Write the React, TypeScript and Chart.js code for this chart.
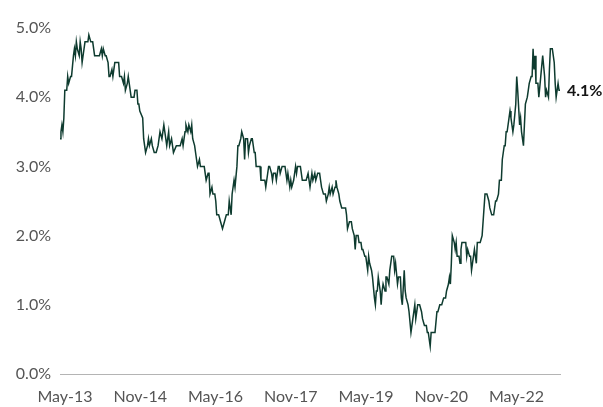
import React, { useEffect, useRef } from "react";
import { Chart, registerables } from "chart.js";

Chart.register(...registerables);

// Week offsets from the first observation (early Apr 2013)
const weeks1 = [0,1,2,3,4,5,7,8,9,11, 12,14,15,16,17,18,20,21,22,23, 25,26,28,29,30,32,34,36,41,43, 44,45,47,48,50,51,52,54,55,57, 61,62,64,66,67,68,70,71,73,74, 77,78,80,81,82,83];
const rates1 = [3.4,3.5,3.6,3.5,3.7,4.1,4.1,4.3,4.2,4.3, 4.3,4.6,4.7,4.6,4.8,4.7,4.6,4.8,4.7,4.5, 4.7,4.8,4.8,4.8,4.9,4.8,4.8,4.6,4.6,4.7, 4.6,4.7,4.6,4.6,4.5,4.3,4.3,4.4,4.3,4.5, 4.5,4.3,4.3,4.2,4.3,4.1,4.2,4.3,4.1,4.0, 4.0,4.1,4.1,3.9,3.9,3.8];

const weeks2 = [86,87,89,91,92,93,95,96,98,100, 102,104,105,106,108,110,111,113,114,116, 117,118,121,125,127,128,130,131,133,134, 136,137,138,140,142,143,145,146,150,151, 152,154,155,156,158,159,161,162,163,165, 167,169,171,173,175,176,178,179,181,182, 184,185,186,188,189,191,192,193,195,196, 197,199,200,202,203,204,208,209,213,214, 215,217,218,220,221,222,224,225,227,228, 229,231,234,236,237,239,240,241,243,245, 246,247,250];
const rates2 = [3.7,3.4,3.2,3.3,3.4,3.3,3.4,3.3,3.2,3.2, 3.3,3.5,3.5,3.4,3.6,3.4,3.3,3.5,3.3,3.4, 3.3,3.2,3.3,3.3,3.4,3.3,3.5,3.6,3.5,3.6, 3.5,3.6,3.4,3.3,3.1,3.0,3.1,3.0,3.0,2.9, 2.8,2.9,2.9,2.6,2.7,2.6,2.6,2.5,2.3,2.3, 2.2,2.1,2.2,2.3,2.3,2.5,2.3,2.6,2.8,2.7, 3.0,3.3,3.3,3.4,3.5,3.4,3.1,3.4,3.4,3.2, 3.3,3.4,3.4,3.2,3.2,3.0,3.0,2.8,2.8,2.7, 2.8,3.0,3.0,2.9,2.8,2.9,2.9,2.8,3.0,3.0, 2.9,3.0,3.0,2.8,2.9,2.7,2.8,2.7,2.8,3.0, 2.9,3.0,3.0];

const weeks3 = [252,256,258,259,260,262,263,265,266,268, 270,271,272,274,276,277,279,280,281,283, 284,286,287,288,290,291,293,297,298,299, 301,303,304,306,307,308,310,311,313,314, 315,317,318,320,321,322,324,325,327,328, 329,330,331,333,334,335,336,338,339,340, 342,343,345,347,348,349,351,352,354,355, 356,358,359,360,362,363,365,366,367,369, 370,372,374,376,377,379,381,382,383,385, 386,390,392,393,395,397,399,401,402,404, 405,406];
const rates3 = [2.8,2.8,2.9,2.8,2.7,2.9,2.8,2.9,2.8,2.9, 2.9,2.8,2.7,2.6,2.6,2.5,2.6,2.7,2.6,2.7, 2.6,2.7,2.8,2.7,2.6,2.5,2.4,2.4,2.3,2.1, 2.2,2.2,2.1,2.0,1.8,2.0,2.0,1.9,1.9,1.8, 1.8,1.7,1.7,1.5,1.7,1.6,1.5,1.4,1.1,1.0, 1.2,1.2,1.4,1.2,1.0,1.2,1.3,1.2,1.4,1.4, 1.3,1.5,1.7,1.7,1.5,1.6,1.3,1.4,1.4,1.1, 1.0,1.5,1.2,1.1,1.0,0.9,0.6,0.7,0.8,1.0, 0.8,1.0,1.0,0.9,0.8,0.7,0.7,0.6,0.6,0.4, 0.6,0.6,0.9,0.9,1.0,1.0,1.1,1.1,1.2,1.3, 1.4,1.3];

const weeks4 = [407,408,410,411,412,413,415,416,417,418, 422,423,424,426,427,428,430,431,433,434, 437,439,440,442,444,446,447,449,451,453, 454,456,457,459,460,462,463,464,465,467, 468,469,471,472,474,475,476,478,479,480, 482,483,484,486,487,488,490,491,492,493, 494,495,497,498,500,502,504,505,506,508, 509,510,512,514,515,516,518,519,520];
const rates4 = [1.6,2.0,1.9,1.8,1.9,1.7,1.7,1.6,1.8,1.9, 1.9,1.7,1.8,1.7,1.7,1.5,1.7,1.8,1.6,1.9, 1.9,2.0,2.2,2.6,2.6,2.5,2.4,2.3,2.3,2.5, 2.5,2.6,2.8,2.8,3.1,3.3,3.3,3.5,3.5,3.7, 3.8,3.7,3.5,3.6,3.9,4.3,4.1,3.6,3.7,3.5, 3.3,3.6,3.9,4.0,4.1,4.2,4.3,4.3,4.7,4.4, 4.6,4.2,4.2,4.0,4.3,4.6,4.3,4.0,4.1,4.0, 4.4,4.7,4.7,4.5,4.2,4.0,4.2,4.1,4.1];

const tickLabels = ["May-13", "Nov-14", "May-16", "Nov-17", "May-19", "Nov-20", "May-22"];
const yTicks = [0, 1, 2, 3, 4, 5];
const endLabel = "4.1%";

const START_YEAR = 2013.2337; // decimal year of week 0
const WEEKS_PER_YEAR = 52.1775;
const MONTHS = ["Jan","Feb","Mar","Apr","May","Jun","Jul","Aug","Sep","Oct","Nov","Dec"];

function labelToWeek(label: string): number {
  const [m, y] = label.split("-");
  const yr = 2000 + parseInt(y, 10) + MONTHS.indexOf(m) / 12;
  return (yr - START_YEAR) * WEEKS_PER_YEAR;
}

const allWeeks = [...weeks1, ...weeks2, ...weeks3, ...weeks4];
const allRates = [...rates1, ...rates2, ...rates3, ...rates4];

const LINE_COLOR = "#0e3b2f";
const TICK_COLOR = "#555555";
const FONT = "Lato, 'Open Sans', sans-serif";

const endLabelPlugin = {
  id: "endLabel",
  afterDatasetsDraw(chart: any) {
    const meta = chart.getDatasetMeta(0);
    const pt = meta.data[meta.data.length - 1];
    if (!pt) return;
    const ctx = chart.ctx;
    ctx.save();
    ctx.font = `bold 16px ${FONT}`;
    ctx.fillStyle = "#141414";
    ctx.textAlign = "left";
    ctx.textBaseline = "middle";
    ctx.fillText(endLabel, pt.x + 7, pt.y + 1);
    ctx.restore();
  },
};

export default function App() {
  const ref = useRef<HTMLCanvasElement | null>(null);

  useEffect(() => {
    if (!ref.current) return;
    const n = Math.min(allWeeks.length, allRates.length);
    const data = [];
    for (let i = 0; i < n; i++) data.push({ x: allWeeks[i], y: allRates[i] });
    const tickWeeks = tickLabels.map(labelToWeek);

    const chart = new Chart(ref.current, {
      type: "line",
      data: {
        datasets: [
          {
            data,
            borderColor: LINE_COLOR,
            borderWidth: 1.5,
            pointRadius: 0,
            tension: 0,
            fill: false,
          },
        ],
      },
      options: {
        responsive: false,
        animation: false,
        layout: { padding: { top: 28, right: 43, left: 0, bottom: 0 } },
        plugins: { legend: { display: false }, tooltip: { enabled: false } },
        scales: {
          x: {
            type: "linear",
            min: 0,
            max: 520,
            grid: { display: false, drawTicks: false },
            border: { display: true, color: "#b4b4b4", width: 1 },
            ticks: {
              autoSkip: false,
              maxRotation: 0,
              padding: 13,
              color: TICK_COLOR,
              font: { family: FONT, size: 16 },
              callback: (_v: any, i: number) => tickLabels[i],
            },
            afterBuildTicks: (s: any) => {
              s.ticks = tickWeeks.map((v) => ({ value: v }));
            },
            afterFit: (s: any) => {
              s.height = 33;
            },
          },
          y: {
            min: 0,
            max: 5,
            grid: { display: false, drawTicks: false },
            border: { display: false },
            ticks: {
              padding: 9,
              color: TICK_COLOR,
              font: { family: FONT, size: 16 },
              callback: (v: any) => Number(v).toFixed(1) + "%",
            },
            afterBuildTicks: (s: any) => {
              s.ticks = yTicks.map((v) => ({ value: v }));
            },
            afterFit: (s: any) => {
              s.width = 60;
            },
          },
        },
      } as any,
      plugins: [endLabelPlugin],
    });
    return () => chart.destroy();
  }, []);

  return (
    <div style={{ position: "absolute", left: 0, top: 0, width: 603, height: 407, background: "#fff" }}>
      <canvas ref={ref} width={603} height={407} style={{ display: "block" }} />
    </div>
  );
}
